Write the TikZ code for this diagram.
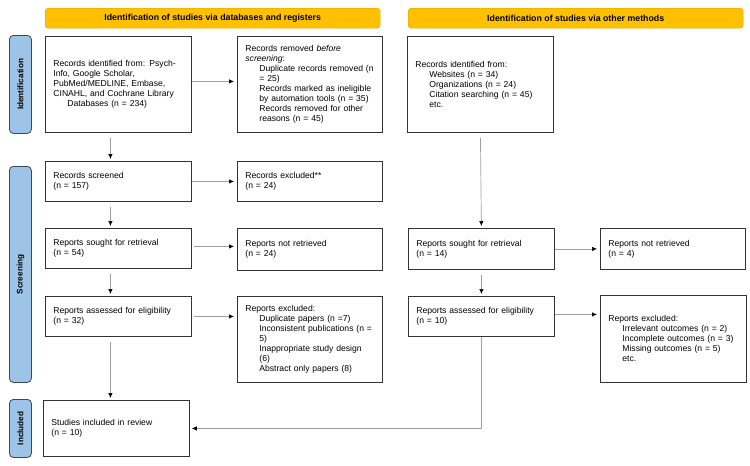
\documentclass[tikz,border=0pt]{standalone}
\usepackage{fontspec}
\setmainfont{Liberation Sans}
\usetikzlibrary{arrows.meta}

\definecolor{hdrgold}{HTML}{FFC000}
\definecolor{hdredge}{HTML}{D9A300}
\definecolor{barblue}{HTML}{9DC3E6}
\definecolor{baredge}{HTML}{3A4A5C}

\begin{document}
\begin{tikzpicture}[x=1pt, y=-1pt,
    box/.style={draw=black!80, line width=0.8pt, fill=white, anchor=north west,
        inner xsep=8pt, inner ysep=0pt, align=left, font=\fontsize{8.6}{10}\selectfont},
    hdr/.style={draw=hdredge, fill=hdrgold, rounded corners=3pt, anchor=north west,
        minimum width=335, minimum height=20, inner sep=0pt, font=\bfseries\fontsize{8.8}{10}\selectfont},
    bar/.style={draw=baredge, fill=barblue, rounded corners=4pt, line width=0.8pt,
        anchor=north west, minimum width=22, inner sep=0pt},
    bartext/.style={rotate=90, font=\bfseries\fontsize{8.2}{9}\selectfont},
    arr/.style={draw=gray!75, line width=0.7pt, -{Latex[black, length=5pt, width=4.5pt]}}]
    \useasboundingbox (0,0) rectangle (750,466);
    % headers
    \node[hdr] (hdrA) at (45,8) {Identification of studies via databases and registers};
    \node[hdr] (hdrB) at (408,8) {Identification of studies via other methods};
    % side bars
    \node[bar, minimum height=98] (barId) at (9,35) {};
    \node[bartext] at (barId) {Identification};
    \node[bar, minimum height=216] (barScr) at (9,166) {};
    \node[bartext] at (barScr) {Screening};
    \node[bar, minimum height=58] (barInc) at (9,399) {};
    \node[bartext] at (barInc) {Included};
    % databases and registers
    \node[box, text width=130, minimum height=96] (ident) at (45,36)
        {Records identified from: Psych-\\Info, Google Scholar,\\PubMed/MEDLINE, Embase,\\CINAHL, and Cochrane Library\\\hspace*{14pt}Databases (n = 234)};
    \node[box, text width=129, minimum height=96] (removed) at (237,36)
        {Records removed \textit{before}\\\textit{screening}:\\
        \hspace*{14pt}Duplicate records removed (n\\\hspace*{14pt}= 25)\\
        \hspace*{14pt}Records marked as ineligible\\\hspace*{14pt}by automation tools (n = 35)\\
        \hspace*{14pt}Records removed for other\\\hspace*{14pt}reasons (n = 45)};
    \node[box, text width=130, minimum height=40] (screened) at (45,161) {Records screened\\(n = 157)};
    \node[box, text width=129, minimum height=40] (excluded) at (237,161) {Records excluded**\\(n = 24)};
    \node[box, text width=130, minimum height=40] (sought) at (45,228) {Reports sought for retrieval\\(n = 54)};
    \node[box, text width=129, minimum height=42] (notret) at (237,228) {Reports not retrieved\\(n = 24)};
    \node[box, text width=130, minimum height=40] (assessed) at (45,296) {Reports assessed for eligibility\\(n = 32)};
    \node[box, text width=129, minimum height=86] (rexcl) at (237,296)
        {Reports excluded:\\
        \hspace*{14pt}Duplicate papers (n =7)\\
        \hspace*{14pt}Inconsistent publications (n =\\\hspace*{14pt}5)\\
        \hspace*{14pt}Inappropriate study design\\\hspace*{14pt}(6)\\
        \hspace*{14pt}Abstract only papers (8)};
    \node[box, text width=130, minimum height=56] (included) at (43,400) {Studies included in review\\(n = 10)};
    % other methods
    \node[box, text width=130, minimum height=96] (other) at (407,36)
        {Records identified from:\\
        \hspace*{14pt}Websites (n = 34)\\
        \hspace*{14pt}Organizations (n = 24)\\
        \hspace*{14pt}Citation searching (n = 45)\\
        \hspace*{14pt}etc.};
    \node[box, text width=130, minimum height=41] (sought2) at (408,228) {Reports sought for retrieval\\(n = 14)};
    \node[box, text width=129, minimum height=41] (notret2) at (600,228) {Reports not retrieved\\(n = 4)};
    \node[box, text width=130, minimum height=40] (assessed2) at (408,296) {Reports assessed for eligibility\\(n = 10)};
    \node[box, text width=130, minimum height=87] (rexcl2) at (600,295)
        {Reports excluded:\\
        \hspace*{14pt}Irrelevant outcomes (n = 2)\\
        \hspace*{14pt}Incomplete outcomes (n = 3)\\
        \hspace*{14pt}Missing outcomes (n = 5)\\
        \hspace*{14pt}etc.};
    % connectors
    \draw[arr, shorten <=5pt, shorten >=2pt] ([xshift=-8pt]ident.south) -- ([xshift=-8pt]screened.north);
    \draw[arr, shorten <=5pt, shorten >=2pt] ([xshift=-8pt]screened.south) -- ([xshift=-8pt]sought.north);
    \draw[arr, shorten <=5pt, shorten >=2pt] ([xshift=-8pt]sought.south) -- ([xshift=-8pt]assessed.north);
    \draw[arr, shorten <=5pt, shorten >=2pt] ([xshift=-8pt]assessed.south) -- ([xshift=-6pt]included.north);
    \draw[arr, shorten >=3pt] ([yshift=3pt]ident.east) -- ([yshift=3pt]ident.east -| removed.west);
    \draw[arr, shorten >=3pt] (screened.east) -- (screened.east -| excluded.west);
    \draw[arr, shorten <=2pt, shorten >=3pt] ([yshift=2pt]sought.east) -- ([yshift=2pt]sought.east -| notret.west);
    \draw[arr, shorten <=2pt, shorten >=3pt] (assessed.east) -- (assessed.east -| rexcl.west);
    \draw[arr, shorten <=5pt, shorten >=2pt] (other.south) -- (sought2.north);
    \draw[arr, shorten >=3pt] (sought2.east) -- (sought2.east -| notret2.west);
    \draw[arr, shorten <=5pt, shorten >=2pt] (sought2.south) -- (assessed2.north);
    \draw[arr, shorten >=3pt] ([yshift=2pt]assessed2.east) -- ([yshift=2pt]assessed2.east -| rexcl2.west);
    \draw[arr, shorten >=2pt] (assessed2.south) |- (included.east);
\end{tikzpicture}
\end{document}
